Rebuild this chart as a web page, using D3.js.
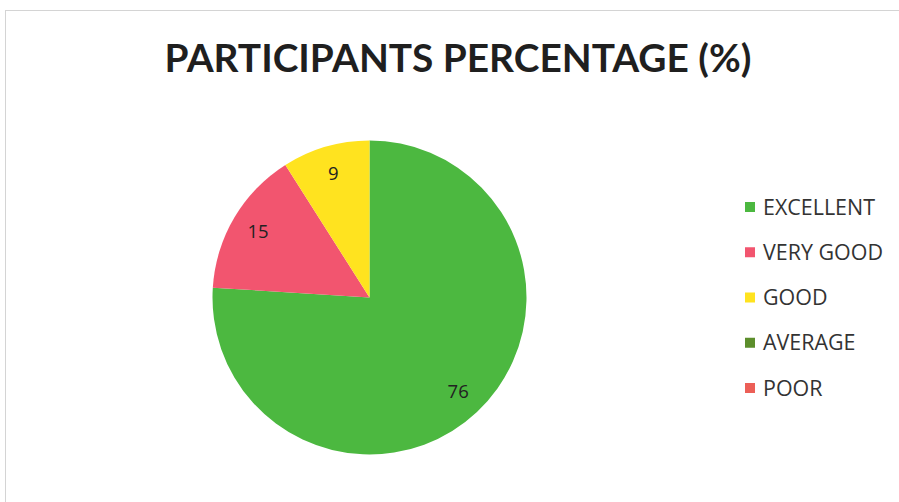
<!DOCTYPE html>
<html><head><meta charset="utf-8">
<script src="https://cdn.jsdelivr.net/npm/d3@7"></script>
<style>body{margin:0;background:#fff;}svg{display:block;}</style>
</head><body>
<svg id="c" width="899" height="502"></svg>
<script>
const title = "PARTICIPANTS PERCENTAGE (%)";
const categories = ["EXCELLENT", "VERY GOOD", "GOOD", "AVERAGE", "POOR"];
const values = [76, 15, 9, 0, 0];
const colors = ["#4cb840", "#f2556f", "#ffe31f", "#5c8e2c", "#ec5f57"];

const svg = d3.select("#c");
const W = 899, H = 502;
svg.append("rect").attr("x", 5.5).attr("y", 10.5).attr("width", W).attr("height", H)
  .attr("fill", "#fff").attr("stroke", "#d4d4d4").attr("stroke-width", 1);

const font = "Lato, 'Open Sans', sans-serif";
const font2 = "'Open Sans', Lato, sans-serif";
const t = svg.append("text").attr("x", 458).attr("y", 72).attr("text-anchor", "middle")
  .attr("font-family", font).attr("font-weight", "bold").attr("font-size", 38)
  .attr("fill", "#1f1f1f").text(title);
const tw = t.node().getComputedTextLength();
t.attr("font-size", 38 * 587 / tw);

const cx = 369.5, cy = 297.5, R = 157;
const color = d3.scaleOrdinal().domain(categories).range(colors);
const data = categories.map((c, i) => ({cat: c, v: values[i]}));
const pie = d3.pie().sort(null).value(d => d.v);
const arcs = pie(data);
const arc = d3.arc().innerRadius(0).outerRadius(R);
const g = svg.append("g").attr("transform", `translate(${cx},${cy})`);
g.selectAll("path").data(arcs.filter(a => a.data.v > 0)).join("path")
  .attr("d", arc).attr("fill", d => color(d.data.cat));

const labelArc = d3.arc().innerRadius(R * 0.825).outerRadius(R * 0.825);
g.selectAll("text.lbl").data(arcs.filter(a => a.data.v > 0)).join("text")
  .attr("class", "lbl")
  .attr("transform", d => `translate(${labelArc.centroid(d)})`)
  .attr("text-anchor", "middle").attr("dy", "0.35em")
  .attr("font-family", font2).attr("font-size", 18.5).attr("fill", "#222")
  .text(d => d.data.v);

const legY = d3.scalePoint().domain(categories).range([207, 388]);
const lg = svg.append("g");
const items = lg.selectAll("g").data(categories).join("g")
  .attr("transform", d => `translate(745,${legY(d)})`);
items.append("rect").attr("x", 0).attr("y", -5).attr("width", 10).attr("height", 10)
  .attr("fill", d => color(d));
const lt = items.append("text").attr("x", 18).attr("dy", "0.35em")
  .attr("font-family", font2).attr("font-size", 18).attr("fill", "#333")
  .text(d => d);
const ew = lt.filter(d => d === "EXCELLENT").node().getComputedTextLength();
lt.attr("font-size", 18 * 112 / ew);
</script>
</body></html>
